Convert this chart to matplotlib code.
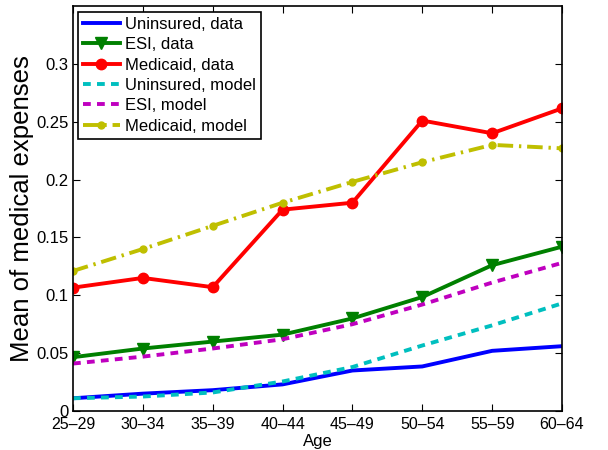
import numpy as np
import matplotlib
matplotlib.use("Agg")
import matplotlib.pyplot as plt

plt.rcParams['font.family'] = ['Liberation Sans', 'DejaVu Sans']

ages = ['25\u201329', '30\u201334', '35\u201339', '40\u201344',
        '45\u201349', '50\u201354', '55\u201359', '60\u201364']

uninsured_data = [0.011, 0.015, 0.018, 0.023, 0.035, 0.0385, 0.052, 0.056]
esi_data = [0.0465, 0.054, 0.060, 0.066, 0.080, 0.0985, 0.126, 0.142]
medicaid_data = [0.1066, 0.115, 0.107, 0.174, 0.180, 0.251, 0.240, 0.2615]
uninsured_model = [0.011, 0.0125, 0.016, 0.0255, 0.038, 0.0566, 0.074, 0.093]
esi_model = [0.041, 0.047, 0.054, 0.062, 0.075, 0.092, 0.111, 0.128]
medicaid_model = [0.121, 0.140, 0.160, 0.180, 0.198, 0.215, 0.230, 0.227]

x = np.arange(len(ages))

fig = plt.figure(figsize=(6.08, 4.5), dpi=100)
ax = fig.add_axes([73/608, 1 - 411/450, 489/608, 405/450])

lw = 2.8
ax.plot(x, uninsured_data, color='b', lw=lw, label='Uninsured, data')
ax.plot(x, esi_data, color='g', lw=lw, marker='v', ms=8.5, label='ESI, data')
ax.plot(x, medicaid_data, color='r', lw=lw, marker='o', ms=7.5, label='Medicaid, data')
ax.plot(x, uninsured_model, color='c', lw=lw, ls=(0, (2, 1.6)), label='Uninsured, model')
ax.plot(x, esi_model, color='m', lw=lw, ls=(0, (2, 1.6)), label='ESI, model')
ax.plot(x, medicaid_model, color='y', lw=lw, ls=(0, (4, 1.5, 0.6, 1.5)),
        marker='o', ms=5, label='Medicaid, model')

ax.set_xlim(0, len(ages) - 1)
ax.set_ylim(0, 0.35)
ax.set_xticks(x)
ax.set_xticklabels(ages, fontsize=11.5)
ax.set_yticks([0, 0.05, 0.1, 0.15, 0.2, 0.25, 0.3])
ax.set_yticklabels(['0', '0.05', '0.1', '0.15', '0.2', '0.25', '0.3'], fontsize=12)
ax.tick_params(direction='in', top=True, right=True, length=5)
ax.tick_params(axis='x', pad=4)
ax.tick_params(axis='y', pad=3)
for s in ax.spines.values():
    s.set_linewidth(1.2)

ax.set_xlabel('Age', fontsize=12, labelpad=2)
ax.set_ylabel('Mean of medical expenses', fontsize=18.5, labelpad=2)

leg = ax.legend(loc='upper left', fontsize=12, handlelength=2.2, handletextpad=0.3,
                labelspacing=0.32, borderpad=0.3, borderaxespad=0, fancybox=False,
                framealpha=1, edgecolor='k', bbox_to_anchor=(5/489, 1 - 6/405))
leg.get_frame().set_linewidth(1.2)

plt.savefig('out.png', dpi=100)
